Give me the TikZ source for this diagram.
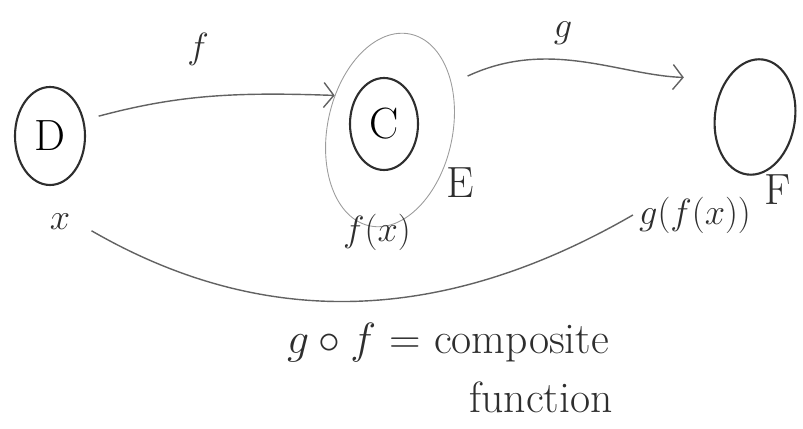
\documentclass[tikz,border=0pt]{standalone}
\usepackage{tikz}
\usepackage{amsmath,amssymb}
\usepackage{xcolor}
\usetikzlibrary{shapes.geometric,arrows.meta}

\definecolor{pencil}{HTML}{2E2E2E}
\definecolor{lightpencil}{HTML}{9C9C9C}

\begin{document}
\begin{tikzpicture}[
  set/.style={draw=pencil,ellipse,line width=1.2pt,inner sep=0pt,font=\Huge},
  map/.style={draw=pencil!75,line width=0.8pt,-{Straight Barb[length=2mm,width=5mm]}},
  lbl/.style={text=pencil,font=\huge}]
\useasboundingbox (0,0) rectangle (16.06,8.58);
\node[set,minimum width=1.4cm,minimum height=1.96cm] (D) at (1.0,5.86) {D};
\node[set,minimum width=1.36cm,minimum height=1.84cm] (C) at (7.68,6.1) {C};
\node[ellipse,draw=lightpencil,line width=0.5pt,minimum width=2.5cm,minimum height=3.92cm,rotate=-12] (E) at (7.8,5.98) {};
\node[set,minimum width=1.6cm,minimum height=2.32cm,rotate=-8] (F) at (15.1,6.24) {};
\node[lbl] (f) at (3.96,7.6) {$f$};
\node[lbl] (g) at (11.26,7.92) {$g$};
\node[lbl] (x) at (1.2,4.14) {$x$};
\node[lbl,font=\Huge] (Elabel) at (9.2,4.92) {E};
\node[lbl] (fx) at (7.54,3.94) {$f(x)$};
\node[lbl] (gfx) at (13.9,4.28) {$g(f(x))$};
\node[lbl,font=\Huge] (Flabel) at (15.56,4.78) {F};
\draw[map,shorten <=0.3cm] (D.25) to[out=15,in=178] (E.160);
\draw[map,shorten <=0.35cm,shorten >=0.85cm] (E.49) to[out=25,in=178] (F.135);
\draw[pencil!75,line width=0.8pt,shorten <=0.35cm] (x.east) to[out=-30,in=210] (gfx.west);
\node[lbl,font=\Huge] (comp) at (8.96,1.72) {$g\circ f$ = composite};
\node[lbl,font=\Huge] (func) at (10.82,0.64) {function};
\end{tikzpicture}
\end{document}
